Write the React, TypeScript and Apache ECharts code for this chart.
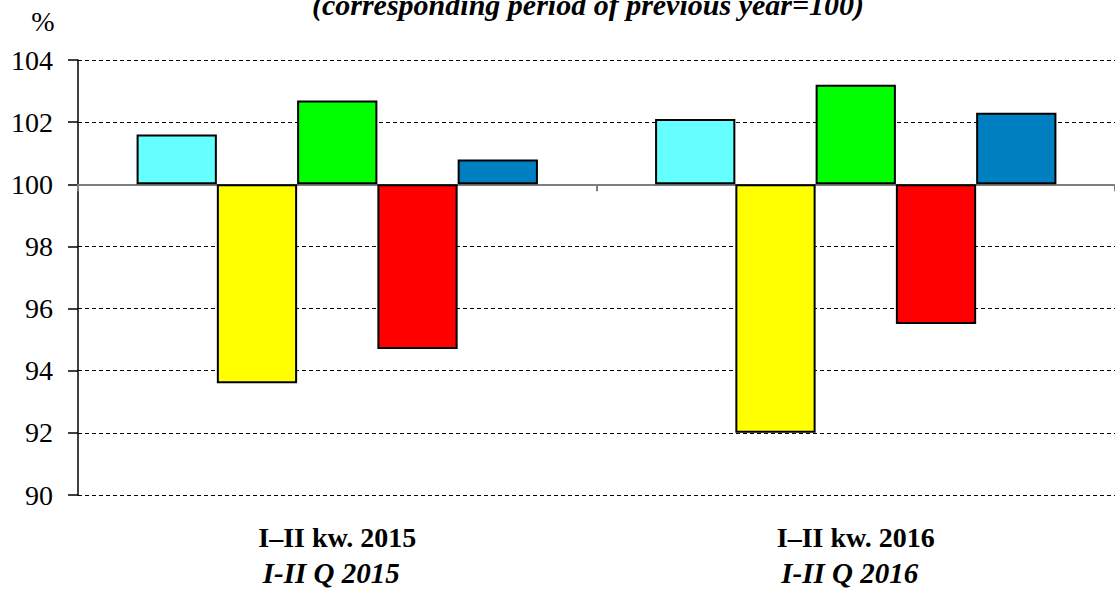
import React, { useEffect, useRef } from "react";
import * as echarts from "echarts";

const categoriesKw = ["I–II kw. 2015", "I–II kw. 2016"];
const categoriesQ = ["I-II Q 2015", "I-II Q 2016"];
const seriesNames = ["Seria 1", "Seria 2", "Seria 3", "Seria 4", "Seria 5"];
const seriesColors = ["#66FFFF", "#FFFF00", "#00FF00", "#FF0000", "#0080C0"];
const values1 = [101.6, 102.1];
const values2 = [93.6, 92.0];
const values3 = [102.7, 103.2];
const values4 = [94.7, 95.5];
const values5 = [100.8, 102.3];
const BASE = 100;
const yTicks = { min: 90, max: 104, interval: 2 };
const titleText = "(corresponding period of previous year=100)";

const FONT = "Liberation Serif";
const FONT2 = "serif";

export default function App() {
  const ref = useRef<HTMLDivElement>(null);
  useEffect(() => {
    if (!ref.current) return;
    const chart = echarts.init(ref.current, undefined, { renderer: "svg" });
    const all = [values1, values2, values3, values4, values5];
    chart.setOption({
      animation: false,
      backgroundColor: "#ffffff",
      textStyle: { fontFamily: FONT2 },
      grid: { left: 78, right: 0, top: 60, bottom: 97, containLabel: false },
      xAxis: [
        {
          type: "category",
          data: categoriesKw,
          position: "bottom",
          axisLine: { onZero: true, lineStyle: { color: "#7f7f7f", width: 2 } },
          axisTick: { show: true, length: 7, lineStyle: { color: "#7f7f7f", width: 2 } },
          axisLabel: { show: false },
          splitLine: { show: false },
        },
        {
          type: "category",
          data: categoriesKw,
          position: "bottom",
          axisLine: { show: false, onZero: false },
          axisTick: { show: false },
          axisLabel: {
            show: true,
            margin: 24,
            formatter: (_v: string, i: number) =>
              `{a|${categoriesKw[i]}}\n{b|${categoriesQ[i]}}`,
            rich: {
              a: { fontFamily: FONT, fontSize: 28, fontWeight: "bold", color: "#000", lineHeight: 36 },
              b: {
                fontFamily: FONT,
                fontSize: 29,
                fontWeight: "bold",
                fontStyle: "italic",
                color: "#000",
                lineHeight: 36,
                padding: [0, 12, 0, 0],
              },
            },
          },
        },
      ],
      yAxis: {
        type: "value",
        min: yTicks.min - BASE,
        max: yTicks.max - BASE,
        interval: yTicks.interval,
        axisLine: { show: true, lineStyle: { color: "#000", width: 1.5 } },
        axisTick: { show: true, length: 10, lineStyle: { color: "#000", width: 1.5 } },
        axisLabel: {
          formatter: (v: number) => String(Math.round(v + BASE)),
          fontFamily: FONT2,
          fontSize: 28,
          fontWeight: "normal",
          color: "#000",
          margin: 25,
        },
        splitLine: { show: true, lineStyle: { color: "#000", width: 1, type: [4, 3] } },
      },
      graphic: [
        {
          type: "text",
          x: 588,
          y: 19,
          style: {
            text: titleText,
            fontFamily: FONT,
            fontSize: 30,
            fontWeight: "bold",
            fontStyle: "italic",
            fill: "#000",
            textAlign: "center",
            textVerticalAlign: "bottom",
          },
        },
        {
          type: "text",
          x: 43,
          y: 21,
          style: {
            text: "%",
            fontFamily: FONT2,
            fontSize: 28,
            fontWeight: "normal",
            fill: "#000",
            textAlign: "center",
            textVerticalAlign: "middle",
          },
        },
      ],
      series: all.map((vals, si) => ({
        name: seriesNames[si],
        type: "bar",
        xAxisIndex: 0,
        barGap: "0%",
        barCategoryGap: "22.6%",
        data: vals.map((v) => +(v - BASE).toFixed(2)),
        itemStyle: { color: seriesColors[si], borderColor: "#000", borderWidth: 2 },
      })),
    });
    return () => chart.dispose();
  }, []);
  return (
    <div
      ref={ref}
      style={{ position: "absolute", left: 0, top: 0, width: 1115, height: 592 }}
    />
  );
}
